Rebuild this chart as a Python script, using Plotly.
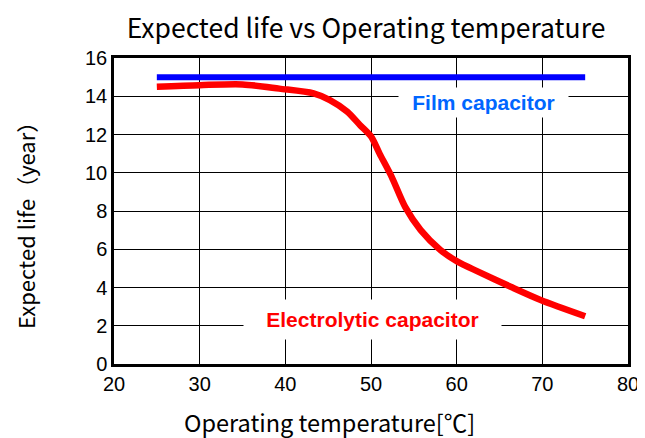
import plotly.graph_objects as go

film_temp = [25, 75]
film_life = [15, 15]

elec_temp = [25, 30, 35, 39.3, 43.3, 45.2, 47.2, 48.7, 50, 51, 52.4, 54, 55.8, 58.1, 60.1, 62.5, 66.3, 69.8, 75]
elec_life = [14.5, 14.58, 14.62, 14.4, 14.15, 13.8, 13.2, 12.5, 11.9, 11.0, 9.8, 8.2, 7.0, 5.96, 5.35, 4.83, 4.04, 3.35, 2.5]

x_ticks = [20, 30, 40, 50, 60, 70, 80]
y_ticks = [0, 2, 4, 6, 8, 10, 12, 14, 16]

fig = go.Figure()
fig.add_trace(go.Scatter(x=film_temp, y=film_life, mode="lines",
                         line=dict(color="#0000FF", width=6), showlegend=False))
fig.add_trace(go.Scatter(x=elec_temp, y=elec_life, mode="lines",
                         line=dict(color="#FF0000", width=6.5, shape="spline", smoothing=0.8),
                         showlegend=False))

fig.add_annotation(x=63.1, y=13.65, xref="x", yref="y", text="<b>Film capacitor</b>",
                   showarrow=False, bgcolor="white", width=167, height=27,
                   font=dict(family="Liberation Sans, Arial", size=21, color="#0066FF"))
fig.add_annotation(x=50.2, y=2.35, xref="x", yref="y", text="<b>Electrolytic capacitor</b>",
                   showarrow=False, bgcolor="white", width=255, height=37,
                   font=dict(family="Liberation Sans, Arial", size=21, color="#FF0000"))

# axis titles
fig.add_annotation(x=0.42, y=-0.19, xref="paper", yref="paper", text="Operating temperature[℃]",
                   showarrow=False, xanchor="center", yanchor="middle",
                   font=dict(family="Noto Sans CJK JP", size=23.5, color="black"))
fig.add_annotation(x=-0.173, y=0.471, xref="paper", yref="paper", text="Expected life（year）",
                   showarrow=False, xanchor="center", yanchor="middle", textangle=-90,
                   font=dict(family="Noto Sans CJK JP", size=22, color="black"))

fig.update_layout(
    width=637, height=430,
    margin=dict(l=106, r=17, t=50, b=74),
    paper_bgcolor="white", plot_bgcolor="white",
    title=dict(text="Expected life vs Operating temperature", x=0.562, xanchor="center",
               y=0.951, yanchor="middle",
               font=dict(family="Noto Sans CJK JP", size=26.5, color="black")),
)
fig.update_xaxes(range=[20, 80], tickvals=x_ticks, showgrid=True, gridcolor="black", gridwidth=1,
                 showline=True, linecolor="black", linewidth=2.5, mirror=True,
                 ticks="inside", ticklen=7, tickcolor="black", zeroline=False, automargin=False,
                 tickfont=dict(family="Liberation Sans, Arial", size=20, color="black"))
fig.update_yaxes(range=[0, 16], tickvals=y_ticks, showgrid=True, gridcolor="black", gridwidth=1,
                 showline=True, linecolor="black", linewidth=2.5, mirror=True,
                 ticks="inside", ticklen=7, tickcolor="black", zeroline=False, automargin=False,
                 tickfont=dict(family="Liberation Sans, Arial", size=20, color="black"))

fig.write_html("out.html")
